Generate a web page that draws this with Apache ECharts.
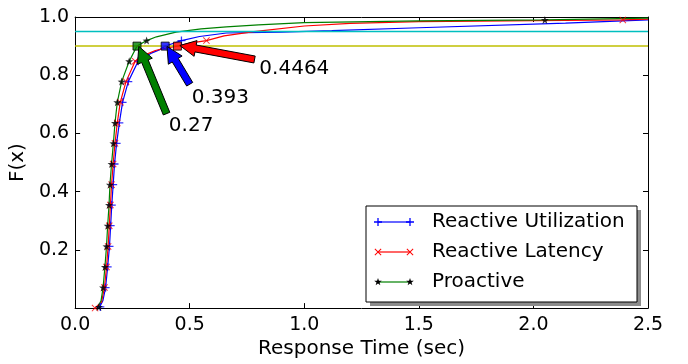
<!DOCTYPE html>
<html>
<head>
<meta charset="utf-8">
<script src="https://cdn.jsdelivr.net/npm/echarts@6/dist/echarts.min.js"></script>
<style>
  html, body { margin: 0; padding: 0; background: #fff; }
  #chart { width: 688px; height: 364px; }
</style>
</head>
<body>
<div id="chart"></div>
<script>
// axis ranges
const xMin = 0, xMax = 2.5, xStep = 0.5;
const yMin = 0, yMax = 1.0, yStep = 0.2;

// reference levels (cyan 0.95, olive 0.90)
const refLevels = [0.95, 0.9];
const refColors = ['#00bfbf', '#bfbf00'];

// Reactive Utilization (blue, +)
const utilCurve = [[0.105, 0], [0.11, 0.004], [0.121, 0.025], [0.133, 0.0707], [0.142, 0.1414], [0.150, 0.212],
  [0.155, 0.283], [0.160, 0.354], [0.166, 0.424], [0.172, 0.495], [0.181, 0.566], [0.193, 0.636], [0.207, 0.707],
  [0.232, 0.778], [0.275, 0.848], [0.33, 0.875], [0.37, 0.888], [0.393, 0.9], [0.43, 0.91], [0.464, 0.919],
  [0.543, 0.933], [0.66, 0.945], [0.9, 0.948], [1.12, 0.953], [1.5, 0.963], [2.14, 0.979], [2.5, 0.99]];
const utilMarks = [[0.11, 0.004], [0.133, 0.0707], [0.142, 0.1414], [0.150, 0.212], [0.155, 0.283], [0.160, 0.354],
  [0.166, 0.424], [0.172, 0.495], [0.181, 0.566], [0.193, 0.636], [0.207, 0.707], [0.232, 0.778], [0.275, 0.848],
  [0.464, 0.919]];

// Reactive Latency (red, x)
const latCurve = [[0.087, 0], [0.115, 0.02], [0.128, 0.0707], [0.137, 0.1414], [0.144, 0.212], [0.149, 0.283],
  [0.154, 0.354], [0.159, 0.424], [0.166, 0.495], [0.174, 0.566], [0.184, 0.636], [0.197, 0.707], [0.222, 0.778],
  [0.262, 0.848], [0.3, 0.868], [0.35, 0.885], [0.4, 0.894], [0.4464, 0.9], [0.5, 0.91], [0.573, 0.919],
  [0.65, 0.935], [0.78, 0.95], [1.0, 0.969], [1.2, 0.978], [1.5, 0.984], [2.39, 0.99], [2.5, 0.993]];
const latMarks = [[0.087, 0], [0.128, 0.0707], [0.137, 0.1414], [0.144, 0.212], [0.149, 0.283], [0.154, 0.354],
  [0.159, 0.424], [0.166, 0.495], [0.174, 0.566], [0.184, 0.636], [0.197, 0.707], [0.222, 0.778], [0.262, 0.848],
  [0.573, 0.919], [2.39, 0.99]];

// Proactive (green line, black stars)
const proCurve = [[0.097, 0], [0.104, 0.004], [0.113, 0.025], [0.122, 0.0707], [0.130, 0.1414], [0.137, 0.212],
  [0.142, 0.283], [0.148, 0.354], [0.152, 0.424], [0.159, 0.495], [0.167, 0.566], [0.174, 0.636], [0.184, 0.707],
  [0.203, 0.778], [0.236, 0.848], [0.27, 0.9], [0.312, 0.919], [0.355, 0.932], [0.44, 0.948], [0.55, 0.959],
  [0.66, 0.966], [0.8, 0.973], [1.0, 0.981], [1.5, 0.987], [2.05, 0.99], [2.5, 0.996]];
const proMarks = [[0.104, 0.004], [0.122, 0.0707], [0.130, 0.1414], [0.137, 0.212], [0.142, 0.283], [0.148, 0.354],
  [0.152, 0.424], [0.159, 0.495], [0.167, 0.566], [0.174, 0.636], [0.184, 0.707], [0.203, 0.778], [0.236, 0.848],
  [0.312, 0.919], [2.05, 0.99]];

// 90th percentile annotations
const annotLabels = ['0.27', '0.393', '0.4464'];
const annotColors = ['#008000', '#0000ff', '#ff0000'];
const annotPoints = [[0.27, 0.9], [0.393, 0.9], [0.4464, 0.9]];
const arrowTips = [[0.278, 0.899], [0.401, 0.899], [0.457, 0.902]];
const arrowTails = [[0.399, 0.668], [0.5, 0.769], [0.783, 0.854]];
const labelAnchors = [[0.409, 0.607], [0.509, 0.702], [0.804, 0.803]];

const legendNames = ['Reactive Utilization', 'Reactive Latency', 'Proactive'];

const FONT = 'DejaVu Sans';
// marker outlines in a 10x10 box
const PLUS = [[4.2, 0], [5.8, 0], [5.8, 4.2], [10, 4.2], [10, 5.8], [5.8, 5.8], [5.8, 10], [4.2, 10], [4.2, 5.8], [0, 5.8], [0, 4.2], [4.2, 4.2]];
const CROSS = [[1, 0], [5, 4], [9, 0], [10, 1], [6, 5], [10, 9], [9, 10], [5, 6], [1, 10], [0, 9], [4, 5], [0, 1]];
const STAR = [[5, 0], [6.18, 3.38], [9.76, 3.45], [6.9, 5.62], [7.94, 9.05], [5, 7], [2.06, 9.05], [3.1, 5.62], [0.24, 3.45], [3.82, 3.38]];

const lineColors = ['#0000ff', '#ff0000', '#008000'];
const markColors = ['#0000ff', '#ff0000', '#000000'];
const markShapes = [PLUS, CROSS, STAR];
const markSizes = [8, 7, 8];

const toPath = pts => 'path://M' + pts.map(p => p.join(',')).join('L') + 'Z';

const chart = echarts.init(document.getElementById('chart'));

function curveSeries(name, data, color) {
    return {
        name: name, type: 'line', data: data, showSymbol: false, symbol: 'none',
        lineStyle: {color: color, width: 1.2}, itemStyle: {color: color}, z: 3,
        animation: false
    };
}

function markSeries(name, data, i) {
    return {
        name: name, type: 'scatter', data: data, symbol: toPath(markShapes[i]),
        symbolSize: markSizes[i], itemStyle: {color: markColors[i]}, z: 4, animation: false
    };
}

function arrowItem(params, api) {
    const tip = api.coord([api.value(0), api.value(1)]);
    const tail = api.coord([api.value(2), api.value(3)]);
    const txt = api.coord([api.value(4), api.value(5)]);
    const i = params.dataIndex;
    const dx = tip[0] - tail[0], dy = tip[1] - tail[1];
    const len = Math.sqrt(dx * dx + dy * dy);
    const ux = dx / len, uy = dy / len, nx = -uy, ny = ux;
    const hl = 16, hw = 8, sw = 3.5;
    const bx = tip[0] - ux * hl, by = tip[1] - uy * hl;
    const pts = [
        [tail[0] + nx * sw, tail[1] + ny * sw],
        [bx + nx * sw, by + ny * sw],
        [bx + nx * hw, by + ny * hw],
        [tip[0], tip[1]],
        [bx - nx * hw, by - ny * hw],
        [bx - nx * sw, by - ny * sw],
        [tail[0] - nx * sw, tail[1] - ny * sw]
    ];
    return {
        type: 'group',
        children: [
            {type: 'polygon', shape: {points: pts}, style: {fill: annotColors[i], stroke: '#000', lineWidth: 1}},
            {type: 'text', x: txt[0], y: txt[1] + 4,
                style: {text: annotLabels[i], fill: '#000', font: '20px "' + FONT + '"', align: 'left', verticalAlign: 'bottom'}}
        ]
    };
}

// legend drawn as graphics to get line + markers at both ends, boxed with a shadow
const legendGraphics = [
    {type: 'rect', shape: {x: 370, y: 210, width: 271, height: 96}, style: {fill: '#8c8c8c'}, z: 100},
    {type: 'rect', shape: {x: 366, y: 206, width: 271, height: 96}, style: {fill: '#fff', stroke: '#000', lineWidth: 1}, z: 101}
];
legendNames.forEach((nm, i) => {
    const cy = 222 + i * 30;
    legendGraphics.push({type: 'line', shape: {x1: 378, y1: cy, x2: 410, y2: cy}, style: {stroke: lineColors[i], lineWidth: 1.2}, z: 102});
    [378, 410].forEach(cx => {
        const s = markSizes[i] / 10;
        legendGraphics.push({type: 'polygon',
            shape: {points: markShapes[i].map(p => [cx + (p[0] - 5) * s, cy + (p[1] - 5) * s])},
            style: {fill: markColors[i]}, z: 103});
    });
    legendGraphics.push({type: 'text', x: 432, y: cy, style: {text: nm, fill: '#000', font: '20px "' + FONT + '"', verticalAlign: 'middle'}, z: 103});
});

const tickFmt = v => (Math.abs(v) < 1e-9 ? '' : v.toFixed(1));

const option = {
    animation: false,
    backgroundColor: '#fff',
    textStyle: {fontFamily: FONT},
    grid: {left: 75, right: 40, top: 17, bottom: 52, containLabel: false},
    xAxis: [
        {type: 'value', min: xMin, max: xMax, interval: xStep, position: 'bottom',
            name: 'Response Time (sec)', nameLocation: 'middle', nameGap: 26,
            nameTextStyle: {fontSize: 20, color: '#000', fontFamily: FONT, verticalAlign: 'top'},
            axisLine: {show: true, onZero: false, lineStyle: {color: '#000', width: 1}},
            axisTick: {show: true, inside: true, length: 5, lineStyle: {color: '#000'}},
            axisLabel: {fontSize: 19, color: '#000', margin: 7, formatter: v => v.toFixed(1)},
            splitLine: {show: false}},
        {type: 'value', min: xMin, max: xMax, interval: xStep, position: 'top',
            axisLine: {show: true, onZero: false, lineStyle: {color: '#000', width: 1}},
            axisTick: {show: true, inside: true, length: 5, lineStyle: {color: '#000'}},
            axisLabel: {show: false}, splitLine: {show: false}}
    ],
    yAxis: [
        {type: 'value', min: yMin, max: yMax, interval: yStep, position: 'left',
            name: 'F(x)', nameLocation: 'middle', nameGap: 41, nameRotate: 90,
            nameTextStyle: {fontSize: 20, color: '#000', fontFamily: FONT},
            axisLine: {show: true, onZero: false, lineStyle: {color: '#000', width: 1}},
            axisTick: {show: true, inside: true, length: 5, lineStyle: {color: '#000'}},
            axisLabel: {fontSize: 19, color: '#000', margin: 6, formatter: tickFmt},
            splitLine: {show: false}},
        {type: 'value', min: yMin, max: yMax, interval: yStep, position: 'right',
            axisLine: {show: true, onZero: false, lineStyle: {color: '#000', width: 1}},
            axisTick: {show: true, inside: true, length: 5, lineStyle: {color: '#000'}},
            axisLabel: {show: false}, splitLine: {show: false}}
    ],
    graphic: legendGraphics,
    series: [
        curveSeries(legendNames[0], utilCurve, lineColors[0]),
        curveSeries(legendNames[1], latCurve, lineColors[1]),
        curveSeries(legendNames[2], proCurve, lineColors[2]),
        markSeries(legendNames[0], utilMarks, 0),
        markSeries(legendNames[1], latMarks, 1),
        markSeries(legendNames[2], proMarks, 2),
        ...refLevels.map((lv, i) => ({
            type: 'line', data: [[xMin, lv], [xMax, lv]], symbol: 'none',
            lineStyle: {color: refColors[i], width: 1.5}, z: 5, animation: false
        })),
        {type: 'scatter', symbol: 'rect', symbolSize: 8, z: 6,
            data: annotPoints.map((p, i) => ({value: p, itemStyle: {color: annotColors[i], borderColor: '#000', borderWidth: 1}}))},
        {type: 'custom', renderItem: arrowItem, clip: false, z: 7,
            encode: {x: [0, 2, 4], y: [1, 3, 5]},
            data: arrowTips.map((t, i) => [t[0], t[1], arrowTails[i][0], arrowTails[i][1], labelAnchors[i][0], labelAnchors[i][1]])}
    ]
};

chart.setOption(option);
</script>
</body>
</html>
